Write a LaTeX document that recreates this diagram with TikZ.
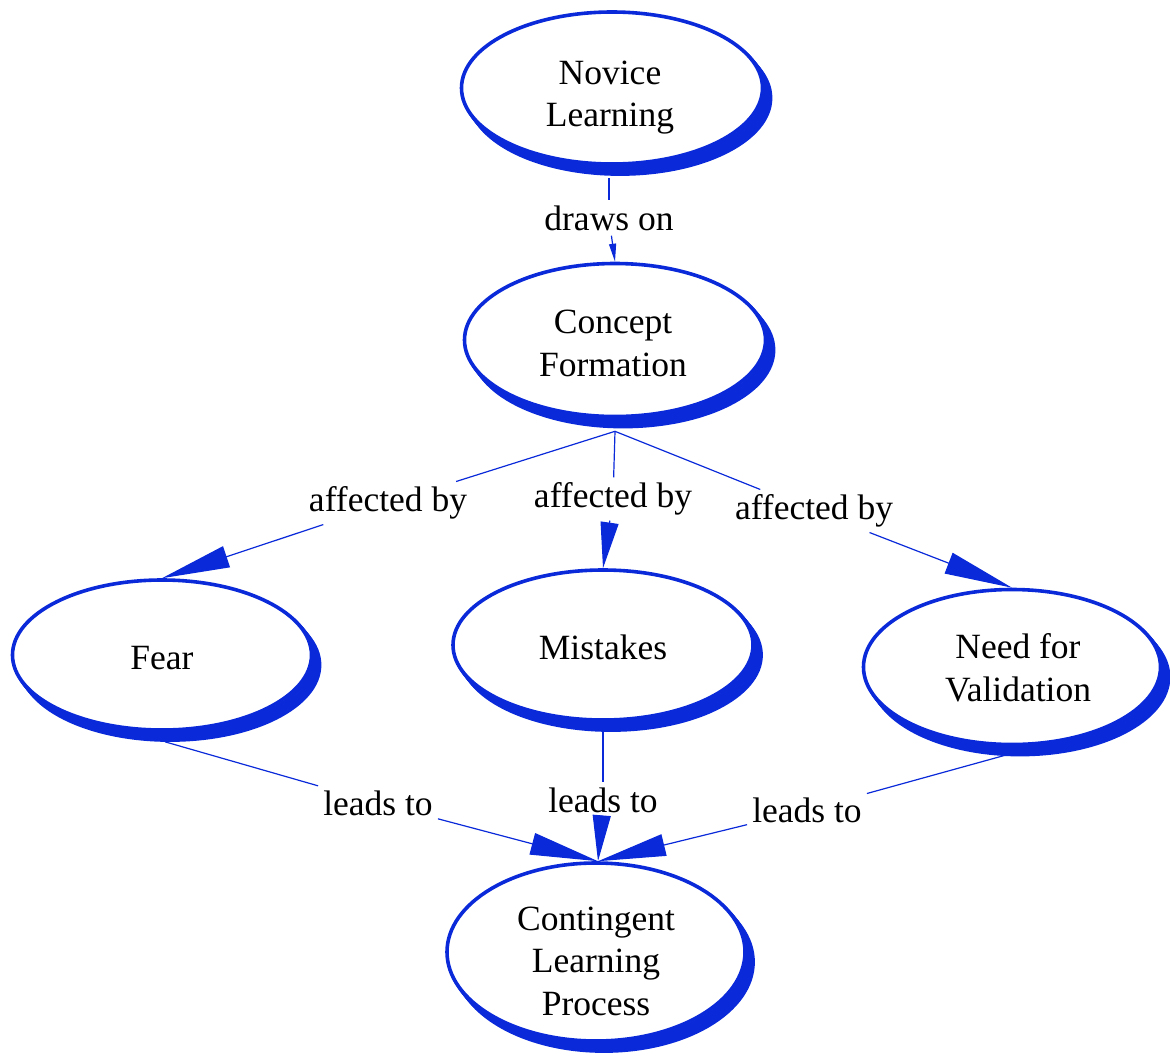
\documentclass[tikz,border=0pt]{standalone}
\usepackage{fontspec}
\setmainfont{Liberation Serif}
\usetikzlibrary{arrows.meta,shapes.geometric}
\definecolor{cmblue}{RGB}{10,42,218}
\tikzset{
  x=1pt, y=-1pt,
  shadowstroke/.style={draw=cmblue, line width=3.8pt, transform canvas={shift={#1}}},
  concept/.style={ellipse, draw=cmblue, line width=3.6pt, fill=white, inner sep=0pt,
    preaction={shadowstroke={(2pt,-2.5pt)}},
    preaction={shadowstroke={(4pt,-5pt)}},
    preaction={shadowstroke={(6pt,-7.5pt)}},
    preaction={shadowstroke={(8pt,-10pt)}}},
  ctext/.style={align=center, font=\fontsize{35.5}{42.5}\selectfont, inner sep=0pt},
  lab/.style={font=\fontsize{35.5}{42}\selectfont, inner sep=5pt},
  link/.style={draw=cmblue, line width=1.2pt},
  bigtip/.style={link, -{Triangle[length=68pt,width=22pt]}},
  midtip/.style={link, -{Triangle[length=46pt,width=18pt]}},
  smalltip/.style={link, -{Triangle[length=18pt,width=7pt]}},
}
\begin{document}
\begin{tikzpicture}
\useasboundingbox (0,0) rectangle (1170,1055);
% concept ellipses
\node[concept, minimum width=301pt, minimum height=152pt] (novice) at (612,88) {};
\node[concept, minimum width=301pt, minimum height=153pt] (concept) at (615,340) {};
\node[concept, minimum width=299pt, minimum height=150pt] (fear) at (162,655) {};
\node[concept, minimum width=300pt, minimum height=150pt] (mist) at (603,645) {};
\node[concept, minimum width=297pt, minimum height=155pt] (need) at (1012,667) {};
\node[concept, minimum width=298pt, minimum height=178pt] (cont) at (596,952) {};
% concept texts
\node[ctext] (noviceT) at (610,97.5) {Novice\\Learning};
\node[ctext] (conceptT) at (613,343.5) {Concept\\Formation};
\node[ctext] (fearT) at (162,658) {Fear};
\node[ctext] (mistT) at (603,647) {Mistakes};
\node[ctext] (needT) at (1018,668) {Need for\\Validation};
\node[ctext] (contT) at (596,961) {Contingent\\Learning\\Process};
% link labels
\node[lab] (l1) at (609,218) {draws on};
\node[lab] (l2) at (388,503) {affected by};
\node[lab] (l3) at (613,499) {affected by};
\node[lab] (l4) at (814,511) {affected by};
\node[lab] (l5) at (378,803) {leads to};
\node[lab] (l6) at (603,800) {leads to};
\node[lab] (l7) at (807,810) {leads to};
% coordinates at the lower edges of the shadowed ellipses
\coordinate (novb) at ([shift={(-3pt,-12pt)}]novice.south);
\coordinate (conb) at ([yshift=-13pt]concept.south);
\coordinate (fearb) at ([shift={(3pt,-10pt)}]fear.south);
\coordinate (mistb) at ([yshift=-10pt]mist.south);
\coordinate (needb) at ([shift={(-7pt,-9pt)}]need.south);
\coordinate (contt) at ([xshift=2pt]cont.north);
% connectors
\draw[link] (novb) -- (l1);
\draw[smalltip] (l1) -- (concept.north);
\draw[link] (conb) -- (l2);
\draw[bigtip] (l2) -- (fear.north);
\draw[link] (conb) -- (l3);
\draw[midtip] (l3) -- (mist.north);
\draw[link] (conb) -- (l4);
\draw[bigtip] (l4) -- (need.north);
\draw[link] (fearb) -- (l5);
\draw[bigtip] (l5) -- (contt);
\draw[link] (mistb) -- (l6);
\draw[midtip] (l6) -- (contt);
\draw[link] (needb) -- (l7);
\draw[bigtip] (l7) -- (contt);
\end{tikzpicture}
\end{document}
